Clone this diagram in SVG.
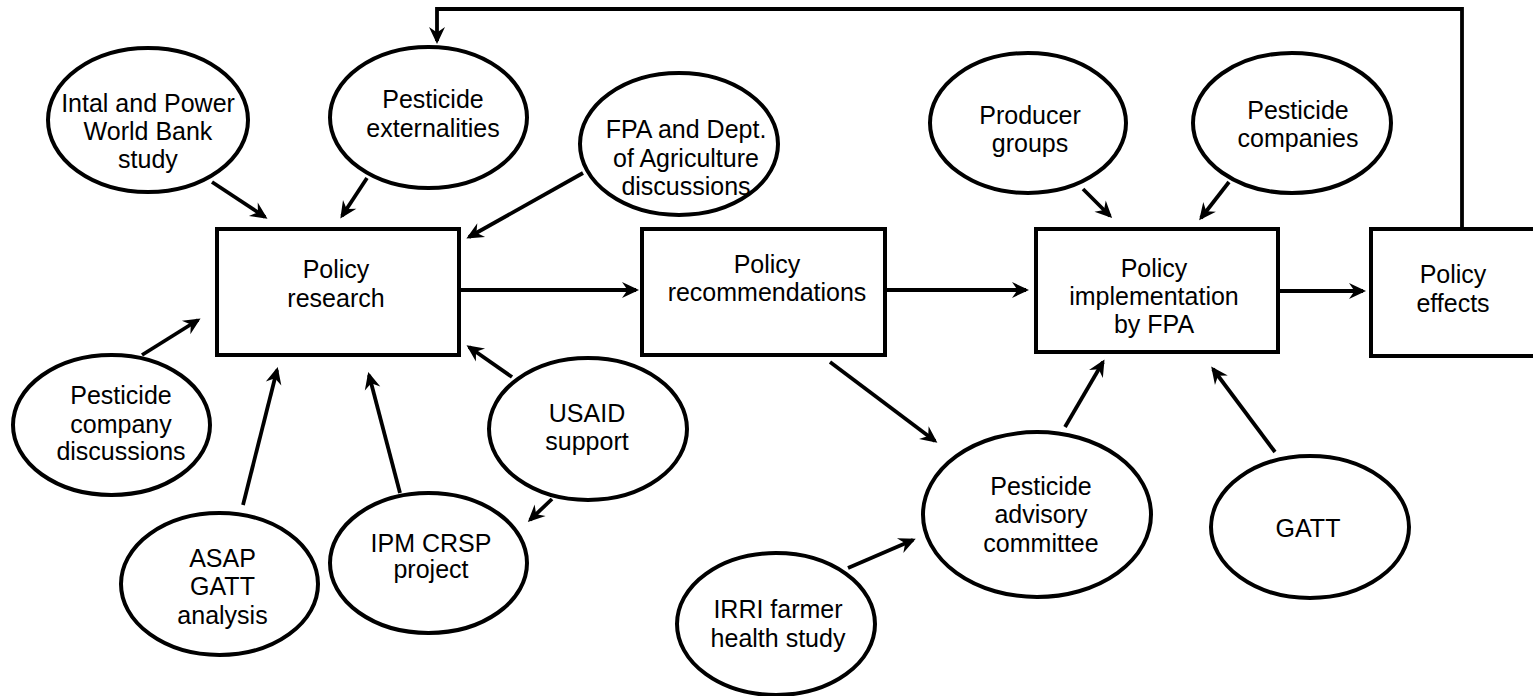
<svg xmlns="http://www.w3.org/2000/svg" width="1533" height="696" viewBox="0 0 1533 696">
<style>
  .node { fill: #ffffff; stroke: #000000; stroke-width: 4; }
  .lbl { font-family: "Liberation Sans", Arial, sans-serif; font-size: 25px; fill: #000000; text-anchor: middle; }
  .conn { fill: none; stroke: #000000; stroke-width: 3.8; marker-end: url(#arrow); }
</style>
<defs>
  <marker id="arrow" markerUnits="userSpaceOnUse" viewBox="-17 -10 21 20" refX="0" refY="0" markerWidth="21" markerHeight="20" orient="auto">
    <path d="M3,0 L-14,-8 L-8.5,0 L-14,8 Z" fill="#000000"/>
  </marker>
</defs>
<rect width="1533" height="696" fill="#ffffff"/>

<g id="connectors">
  <path class="conn" d="M1462,229 L1462,9 L437,9 L437,41"/>
  <line class="conn" x1="212" y1="182" x2="265" y2="217"/>
  <line class="conn" x1="367" y1="178" x2="342" y2="216"/>
  <line class="conn" x1="583" y1="173" x2="469" y2="237"/>
  <line class="conn" x1="142" y1="355" x2="198" y2="320"/>
  <line class="conn" x1="243" y1="505" x2="277" y2="370"/>
  <line class="conn" x1="400" y1="493" x2="369" y2="375"/>
  <line class="conn" x1="512" y1="377" x2="469" y2="347"/>
  <line class="conn" x1="552" y1="499" x2="530" y2="520"/>
  <line class="conn" x1="459" y1="290" x2="636" y2="290"/>
  <line class="conn" x1="885" y1="290" x2="1026" y2="290"/>
  <line class="conn" x1="1278" y1="291" x2="1363" y2="291"/>
  <line class="conn" x1="830" y1="362" x2="935" y2="441"/>
  <line class="conn" x1="848" y1="568" x2="913" y2="540"/>
  <line class="conn" x1="1065" y1="427" x2="1103" y2="362"/>
  <line class="conn" x1="1275" y1="452" x2="1213" y2="369"/>
  <line class="conn" x1="1083" y1="189" x2="1110" y2="216"/>
  <line class="conn" x1="1229" y1="182" x2="1201" y2="218"/>
</g>

<g id="n-intal">
  <ellipse class="node" cx="148" cy="120" rx="100" ry="72"/>
  <text class="lbl" x="148" y="112">Intal and Power</text>
  <text class="lbl" x="148" y="140">World Bank</text>
  <text class="lbl" x="148" y="168">study</text>
</g>
<g id="n-externalities">
  <ellipse class="node" cx="428.5" cy="117.5" rx="98.5" ry="70.5"/>
  <text class="lbl" x="433" y="108">Pesticide</text>
  <text class="lbl" x="433" y="137">externalities</text>
</g>
<g id="n-fpa-dept">
  <ellipse class="node" cx="679" cy="144" rx="99" ry="71"/>
  <text class="lbl" x="686" y="138">FPA and Dept.</text>
  <text class="lbl" x="686" y="167">of Agriculture</text>
  <text class="lbl" x="686" y="195">discussions</text>
</g>
<g id="n-producer">
  <ellipse class="node" cx="1028" cy="123" rx="98" ry="70"/>
  <text class="lbl" x="1030" y="124">Producer</text>
  <text class="lbl" x="1030" y="152">groups</text>
</g>
<g id="n-pest-companies">
  <ellipse class="node" cx="1292" cy="123" rx="99" ry="70"/>
  <text class="lbl" x="1298" y="119">Pesticide</text>
  <text class="lbl" x="1298" y="147">companies</text>
</g>

<g id="n-research">
  <rect class="node" x="217" y="229" width="242" height="126"/>
  <text class="lbl" x="336" y="278">Policy</text>
  <text class="lbl" x="336" y="307">research</text>
</g>
<g id="n-recommendations">
  <rect class="node" x="642" y="229" width="243" height="126"/>
  <text class="lbl" x="767" y="273">Policy</text>
  <text class="lbl" x="767" y="301">recommendations</text>
</g>
<g id="n-implementation">
  <rect class="node" x="1036" y="229" width="242" height="123"/>
  <text class="lbl" x="1154" y="277">Policy</text>
  <text class="lbl" x="1154" y="305">implementation</text>
  <text class="lbl" x="1154" y="333">by FPA</text>
</g>
<g id="n-effects">
  <rect class="node" x="1371" y="229" width="175" height="127"/>
  <text class="lbl" x="1453" y="283">Policy</text>
  <text class="lbl" x="1453" y="312">effects</text>
</g>

<g id="n-company-disc">
  <ellipse class="node" cx="111.5" cy="425" rx="98.5" ry="70"/>
  <text class="lbl" x="121" y="404">Pesticide</text>
  <text class="lbl" x="121" y="433">company</text>
  <text class="lbl" x="121" y="460">discussions</text>
</g>
<g id="n-asap">
  <ellipse class="node" cx="219.5" cy="584" rx="98.5" ry="71"/>
  <text class="lbl" x="222.5" y="567">ASAP</text>
  <text class="lbl" x="222.5" y="595">GATT</text>
  <text class="lbl" x="222.5" y="624">analysis</text>
</g>
<g id="n-ipm">
  <ellipse class="node" cx="428.5" cy="563" rx="98.5" ry="70"/>
  <text class="lbl" x="431" y="552">IPM CRSP</text>
  <text class="lbl" x="431" y="578">project</text>
</g>
<g id="n-usaid">
  <ellipse class="node" cx="588" cy="429" rx="99" ry="71"/>
  <text class="lbl" x="587" y="422">USAID</text>
  <text class="lbl" x="587" y="450">support</text>
</g>
<g id="n-advisory">
  <ellipse class="node" cx="1037" cy="514.5" rx="114" ry="82.5"/>
  <text class="lbl" x="1041" y="495">Pesticide</text>
  <text class="lbl" x="1041" y="523">advisory</text>
  <text class="lbl" x="1041" y="552">committee</text>
</g>
<g id="n-irri">
  <ellipse class="node" cx="776" cy="624" rx="99" ry="71"/>
  <text class="lbl" x="778" y="618">IRRI farmer</text>
  <text class="lbl" x="778" y="647">health study</text>
</g>
<g id="n-gatt">
  <ellipse class="node" cx="1310" cy="527" rx="99" ry="71"/>
  <text class="lbl" x="1308" y="537">GATT</text>
</g>
</svg>
